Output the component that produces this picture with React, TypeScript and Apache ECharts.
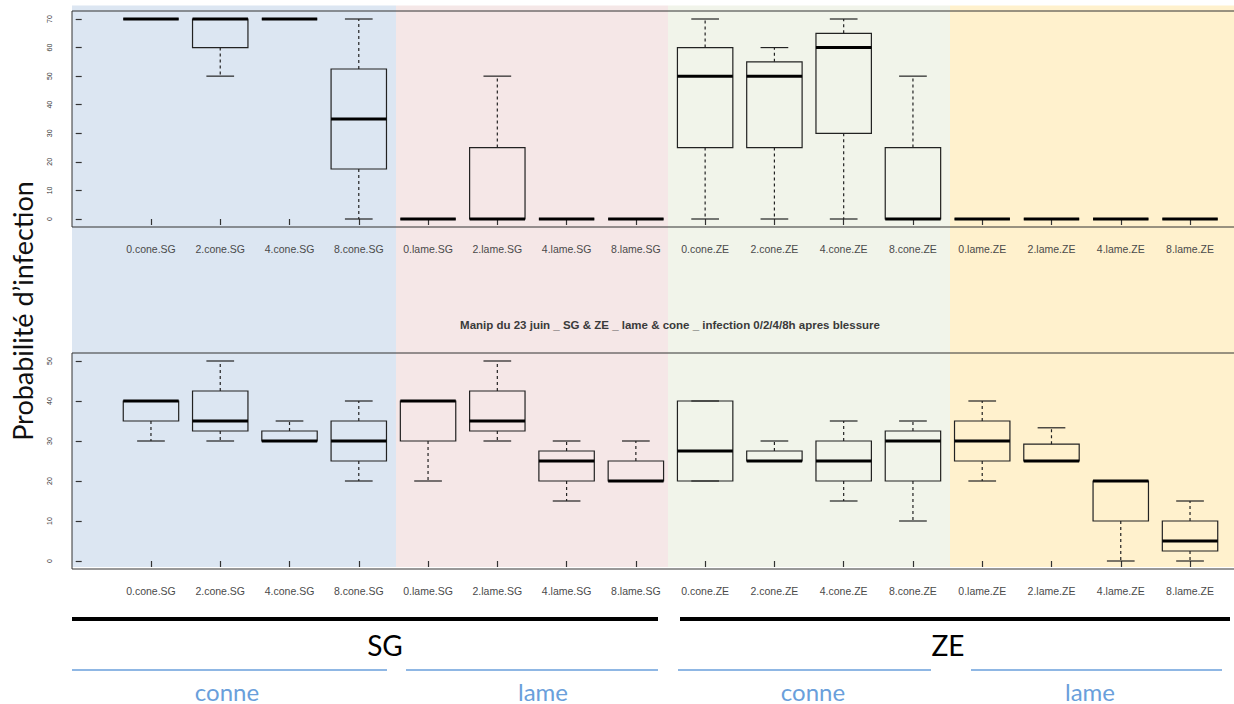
import React, { useEffect, useRef } from "react";
import * as echarts from "echarts";

const categories = [
  "0.cone.SG", "2.cone.SG", "4.cone.SG", "8.cone.SG",
  "0.lame.SG", "2.lame.SG", "4.lame.SG", "8.lame.SG",
  "0.cone.ZE", "2.cone.ZE", "4.cone.ZE", "8.cone.ZE",
  "0.lame.ZE", "2.lame.ZE", "4.lame.ZE", "8.lame.ZE",
];

// [min, Q1, median, Q3, max]
const topStats = [
  [70, 70, 70, 70, 70],
  [50, 60, 70, 70, 70],
  [70, 70, 70, 70, 70],
  [0, 17.5, 35, 52.5, 70],
  [0, 0, 0, 0, 0],
  [0, 0, 0, 25, 50],
  [0, 0, 0, 0, 0],
  [0, 0, 0, 0, 0],
  [0, 25, 50, 60, 70],
  [0, 25, 50, 55, 60],
  [0, 30, 60, 65, 70],
  [0, 0, 0, 25, 50],
  [0, 0, 0, 0, 0],
  [0, 0, 0, 0, 0],
  [0, 0, 0, 0, 0],
  [0, 0, 0, 0, 0],
];

const bottomStats = [
  [30, 35, 40, 40, 40],
  [30, 32.5, 35, 42.5, 50],
  [30, 30, 30, 32.5, 35],
  [20, 25, 30, 35, 40],
  [20, 30, 40, 40, 40],
  [30, 32.5, 35, 42.5, 50],
  [15, 20, 25, 27.5, 30],
  [20, 20, 20, 25, 30],
  [20, 20, 27.5, 40, 40],
  [25, 25, 25, 27.5, 30],
  [15, 20, 25, 30, 35],
  [10, 20, 30, 32.5, 35],
  [20, 25, 30, 35, 40],
  [25, 25, 25, 29.2, 33.3],
  [0, 10, 20, 20, 20],
  [0, 2.5, 5, 10, 15],
];

const topTicks = [0, 10, 20, 30, 40, 50, 60, 70];
const bottomTicks = [0, 10, 20, 30, 40, 50];
const categoryPositions = categories.map((_, i) => i + 1);

const chartTitle = "Manip du 23 juin _ SG & ZE _ lame & cone _ infection 0/2/4/8h apres blessure";
const yTitle = "Probabilité d\u2019infection";
const groupLabels = ["SG", "ZE"];
const subLabels = ["conne", "lame", "conne", "lame"];

const FONT = "'Liberation Sans', Arial, sans-serif";
const LABEL_FONT = "Lato, 'Open Sans', sans-serif";
const LINE = "#222";

function renderBox(params: any, api: any) {
  const x = api.value(0);
  const mn = api.value(1);
  const q1 = api.value(2);
  const md = api.value(3);
  const q3 = api.value(4);
  const mx = api.value(5);
  const w = api.size([0.8, 0])[0];
  const sw = w / 2;
  const pMin = api.coord([x, mn]);
  const pQ1 = api.coord([x, q1]);
  const pMd = api.coord([x, md]);
  const pQ3 = api.coord([x, q3]);
  const pMax = api.coord([x, mx]);
  const cx = pMd[0];
  const solid = { stroke: LINE, lineWidth: 1.2 };
  const dashed = { stroke: LINE, lineWidth: 1.2, lineDash: [3, 3] };
  const children: any[] = [];
  if (mx > q3) {
    children.push({ type: "line", shape: { x1: cx, y1: pQ3[1], x2: cx, y2: pMax[1] }, style: dashed });
  }
  if (mn < q1) {
    children.push({ type: "line", shape: { x1: cx, y1: pQ1[1], x2: cx, y2: pMin[1] }, style: dashed });
  }
  children.push({ type: "line", shape: { x1: cx - sw / 2, y1: pMax[1], x2: cx + sw / 2, y2: pMax[1] }, style: solid });
  children.push({ type: "line", shape: { x1: cx - sw / 2, y1: pMin[1], x2: cx + sw / 2, y2: pMin[1] }, style: solid });
  children.push({
    type: "rect",
    shape: { x: cx - w / 2, y: pQ3[1], width: w, height: pQ1[1] - pQ3[1] },
    style: { fill: "none", stroke: LINE, lineWidth: 1.2 },
  });
  children.push({
    type: "line",
    shape: { x1: cx - w / 2, y1: pMd[1], x2: cx + w / 2, y2: pMd[1] },
    style: { stroke: "#000", lineWidth: 3 },
  });
  return { type: "group", children };
}

function makeData(stats: number[][]) {
  return stats.map((s, i) => [categoryPositions[i], ...s]);
}

export default function App() {
  const ref = useRef<HTMLDivElement>(null);

  useEffect(() => {
    if (!ref.current) return;
    const chart = echarts.init(ref.current, null, { renderer: "svg" });

    const gridCommon = {
      left: 72,
      width: 1197,
      height: 216,
      show: true,
      borderColor: "#333",
      borderWidth: 1,
      backgroundColor: "transparent",
      containLabel: false,
      outerBoundsMode: "none",
    };

    const xAxisCommon = {
      type: "value",
      min: -0.14,
      max: 17.14,
      splitLine: { show: false },
      axisLine: { show: false },
      axisTick: {
        show: true,
        length: 6,
        customValues: categoryPositions,
        lineStyle: { color: "#333", width: 1.2 },
      },
      axisLabel: {
        show: true,
        customValues: categoryPositions,
        formatter: (v: number) => categories[Math.round(v) - 1] || "",
        margin: 16,
        fontSize: 10.5,
        fontFamily: FONT,
        color: "#4a4a4a",
      },
    };

    const yAxisCommon = {
      type: "value",
      splitLine: { show: false },
      axisLine: { show: false },
      axisLabel: {
        rotate: 90,
        fontSize: 7,
        margin: 19,
        fontFamily: FONT,
        color: "#333",
      },
    };

    const bands = [
      { x: 72, w: 324, color: "#dce6f2" },
      { x: 396, w: 272, color: "#f5e7e7" },
      { x: 668, w: 282, color: "#f1f4ea" },
      { x: 950, w: 290, color: "#fff1cd" },
    ];

    const graphics: any[] = bands.map((b) => ({
      type: "rect",
      z: -10,
      silent: true,
      shape: { x: b.x, y: 5.5, width: b.w, height: 561.5 },
      style: { fill: b.color },
    }));

    graphics.push({
      type: "text",
      x: 670,
      y: 325,
      style: {
        text: chartTitle,
        font: `bold 11.5px ${FONT}`,
        fill: "#3a3a3a",
        textAlign: "center",
        textVerticalAlign: "middle",
        align: "center",
        verticalAlign: "middle",
      },
    });

    graphics.push({
      type: "text",
      x: 22,
      y: 311,
      rotation: Math.PI / 2,
      style: {
        text: yTitle,
        font: `27px ${LABEL_FONT}`,
        fill: "#111",
        textAlign: "center",
        textVerticalAlign: "middle",
        align: "center",
        verticalAlign: "middle",
      },
    });

    const blackLines = [
      [72, 658],
      [680, 1230],
    ];
    blackLines.forEach(([a, b]) =>
      graphics.push({
        type: "line",
        shape: { x1: a, y1: 619, x2: b, y2: 619 },
        style: { stroke: "#000", lineWidth: 4 },
      })
    );
    const groupX = [385, 948];
    groupLabels.forEach((t, i) =>
      graphics.push({
        type: "text",
        x: groupX[i],
        y: 645,
        style: {
          text: t,
          font: `28px ${LABEL_FONT}`,
          fill: "#000",
          textAlign: "center",
          textVerticalAlign: "middle",
          align: "center",
          verticalAlign: "middle",
        },
      })
    );
    const blueLines = [
      [72, 387],
      [406, 658],
      [678, 931],
      [971, 1222],
    ];
    blueLines.forEach(([a, b]) =>
      graphics.push({
        type: "line",
        shape: { x1: a, y1: 670, x2: b, y2: 670 },
        style: { stroke: "#6a9fdb", lineWidth: 1.5 },
      })
    );
    const subX = [227, 543, 813, 1090];
    subLabels.forEach((t, i) =>
      graphics.push({
        type: "text",
        x: subX[i],
        y: 691,
        style: {
          text: t,
          font: `24px ${LABEL_FONT}`,
          fill: "#6a9fdb",
          textAlign: "center",
          textVerticalAlign: "middle",
          align: "center",
          verticalAlign: "middle",
        },
      })
    );

    chart.setOption({
      animation: false,
      backgroundColor: "#ffffff",
      grid: [
        { ...gridCommon, top: 11 },
        { ...gridCommon, top: 353 },
      ],
      xAxis: [
        { ...xAxisCommon, gridIndex: 0 },
        { ...xAxisCommon, gridIndex: 1 },
      ],
      yAxis: [
        {
          ...yAxisCommon,
          gridIndex: 0,
          min: -2.8,
          max: 72.8,
          axisTick: { show: true, length: 6, customValues: topTicks, lineStyle: { color: "#333", width: 1.2 } },
          axisLabel: { ...yAxisCommon.axisLabel, customValues: topTicks },
        },
        {
          ...yAxisCommon,
          gridIndex: 1,
          min: -2,
          max: 52,
          axisTick: { show: true, length: 6, customValues: bottomTicks, lineStyle: { color: "#333", width: 1.2 } },
          axisLabel: { ...yAxisCommon.axisLabel, customValues: bottomTicks },
        },
      ],
      graphic: graphics,
      series: [
        {
          type: "custom",
          xAxisIndex: 0,
          yAxisIndex: 0,
          renderItem: renderBox,
          encode: { x: 0, y: [1, 2, 3, 4, 5] },
          data: makeData(topStats),
          clip: false,
          z: 5,
        },
        {
          type: "custom",
          xAxisIndex: 1,
          yAxisIndex: 1,
          renderItem: renderBox,
          encode: { x: 0, y: [1, 2, 3, 4, 5] },
          data: makeData(bottomStats),
          clip: false,
          z: 5,
        },
      ],
    });

    return () => {
      chart.dispose();
    };
  }, []);

  return (
    <div
      ref={ref}
      style={{ position: "fixed", left: 0, top: 0, width: 1234, height: 704 }}
    />
  );
}
